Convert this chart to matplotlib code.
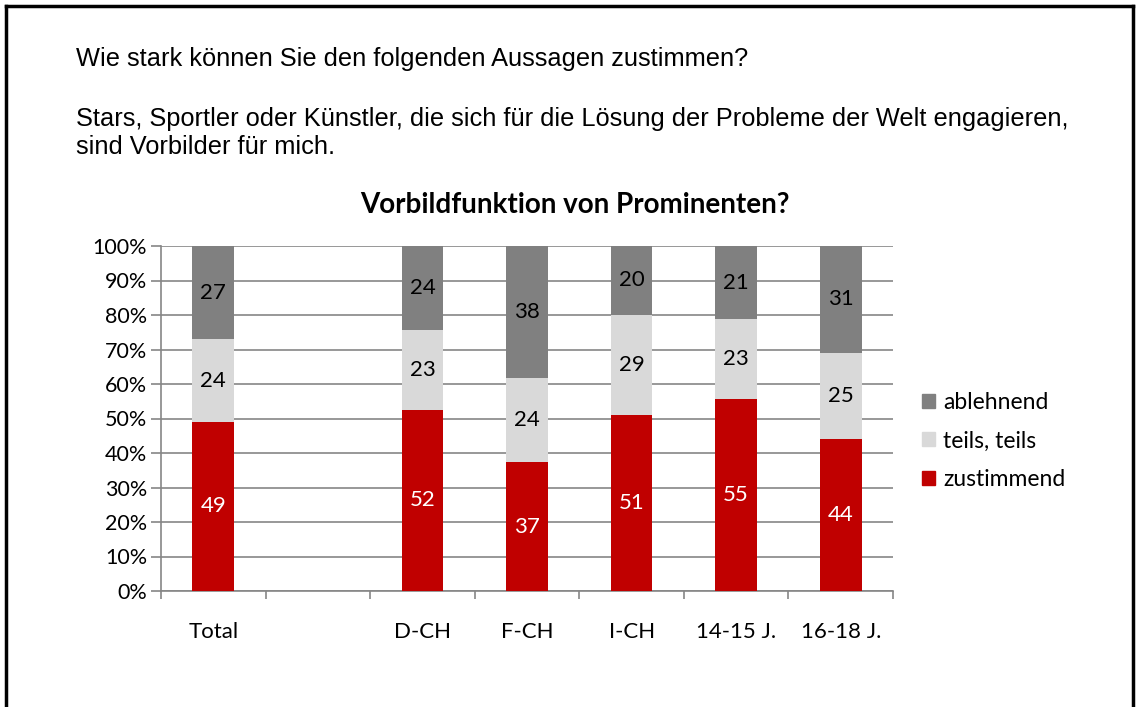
import matplotlib
matplotlib.use("Agg")
import matplotlib.pyplot as plt
import numpy as np
from matplotlib.lines import Line2D
from matplotlib.patches import Patch

categories = ["Total", "", "D-CH", "F-CH", "I-CH", "14-15 J.", "16-18 J."]
zustimmend = [49, np.nan, 52, 37, 51, 55, 44]
teils = [24, np.nan, 23, 24, 29, 23, 25]
ablehnend = [27, np.nan, 24, 38, 20, 21, 31]
series_names = ["zustimmend", "teils, teils", "ablehnend"]
colors = ["#C00000", "#D9D9D9", "#808080"]
label_colors = ["white", "black", "black"]
yticks = [0, 10, 20, 30, 40, 50, 60, 70, 80, 90, 100]

W, H = 1138, 707
fig = plt.figure(figsize=(W / 100, H / 100), dpi=100)
fig.patch.set_facecolor("white")

cfont = "Lato"
hfont = "Liberation Sans"

# frame
lw = 2.5
fig.add_artist(Line2D([6 / W, 6 / W], [0, 1 - 6 / H], transform=fig.transFigure, color="black", lw=lw))
fig.add_artist(Line2D([6 / W, 1133 / W], [1 - 6 / H, 1 - 6 / H], transform=fig.transFigure, color="black", lw=lw))
fig.add_artist(Line2D([1133 / W, 1133 / W], [0, 1 - 6 / H], transform=fig.transFigure, color="black", lw=lw))

# header text
hs = 18.3
fig.text(76 / W, 1 - 59 / H, "Wie stark können Sie den folgenden Aussagen zustimmen?",
         family=hfont, fontsize=hs, va="center", ha="left")
fig.text(76 / W, 1 - 119 / H,
         "Stars, Sportler oder Künstler, die sich für die Lösung der Probleme der Welt engagieren,",
         family=hfont, fontsize=hs, va="center", ha="left")
fig.text(76 / W, 1 - 147 / H, "sind Vorbilder für mich.",
         family=hfont, fontsize=hs, va="center", ha="left")

fig.text(575 / W, 1 - 205 / H, "Vorbildfunktion von Prominenten?",
         family=cfont, fontsize=20, fontweight="bold", va="center", ha="center")

ax = fig.add_axes([161 / W, 1 - 591 / H, (893 - 161) / W, (591 - 246) / H])

data = np.array([zustimmend, teils, ablehnend], dtype=float)
totals = np.nansum(data, axis=0)
x = np.arange(len(categories))
bottom = np.zeros(len(categories))
for i, (name, vals) in enumerate(zip(series_names, data)):
    frac = np.where(totals > 0, vals / np.where(totals > 0, totals, 1) * 100, np.nan)
    ax.bar(x, frac, 0.4, bottom=bottom, color=colors[i], label=name, zorder=3)
    for xi, (f, b, v) in enumerate(zip(frac, bottom, vals)):
        if not np.isnan(f):
            ax.text(xi, b + f / 2, f"{int(v)}", ha="center", va="center",
                    color=label_colors[i], family=cfont, fontsize=16, zorder=4)
    bottom = bottom + np.nan_to_num(frac)

ax.set_xlim(-0.5, len(categories) - 0.5)
ax.set_ylim(0, 100)
ax.set_yticks(yticks)
ax.set_yticklabels([f"{t}%" for t in yticks], family=cfont, fontsize=15.5)
ax.yaxis.grid(True, color="#868686", lw=1.2, zorder=0)
ax.set_axisbelow(True)
ax.set_xticks(x)
ax.set_xticklabels(categories, family=cfont, fontsize=16)
ax.tick_params(axis="x", which="major", length=0, pad=22)
ax.set_xticks(np.arange(-0.5, len(categories), 1.0), minor=True)
ax.tick_params(axis="x", which="minor", length=6, color="#868686", width=1.2)
ax.tick_params(axis="y", length=7, color="#868686", width=1.2, pad=3)
for s in ["top", "right"]:
    ax.spines[s].set_visible(False)
for s in ["left", "bottom"]:
    ax.spines[s].set_color("#868686")
    ax.spines[s].set_linewidth(1.2)

handles = [Patch(color=colors[i]) for i in [2, 1, 0]]
labels = [series_names[i] for i in [2, 1, 0]]
fig.legend(handles, labels, loc="center left", bbox_to_anchor=(922 / W, 1 - 441 / H),
           frameon=False, prop={"family": cfont, "size": 16.5},
           handlelength=0.57, handleheight=0.57, handletextpad=0.35, labelspacing=0.75,
           borderaxespad=0, borderpad=0)

fig.savefig("out.png", dpi=100, facecolor="white")
